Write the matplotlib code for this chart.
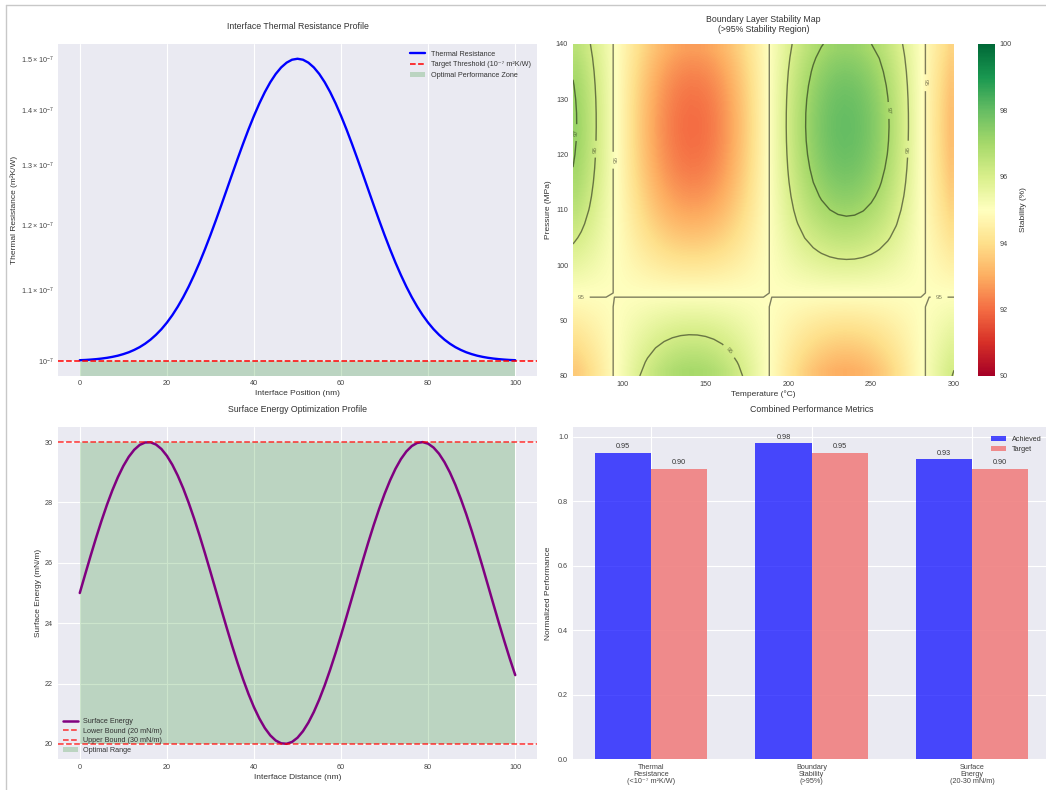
import numpy as np
import matplotlib
matplotlib.use('Agg')
import matplotlib.pyplot as plt
from matplotlib.lines import Line2D

# ---- data ----
# interface thermal resistance along position (units of 1e-7 m2K/W)
position_nm = np.arange(0, 100.01, 1.25)
resistance_e7 = [1.0010, 1.0013, 1.0018, 1.0024, 1.0032, 1.0042, 1.0055, 1.0071,
                 1.0092, 1.0117, 1.0149, 1.0187, 1.0234, 1.0290, 1.0357, 1.0435,
                 1.0527, 1.0633, 1.0755, 1.0893, 1.1048, 1.1221, 1.1410, 1.1617,
                 1.1839, 1.2076, 1.2325, 1.2584, 1.2849, 1.3117, 1.3383, 1.3644,
                 1.3894, 1.4129, 1.4344, 1.4535, 1.4697, 1.4827, 1.4922, 1.4981,
                 1.5000,
                 1.4981, 1.4922, 1.4827, 1.4697, 1.4535, 1.4344, 1.4129, 1.3894,
                 1.3644, 1.3383, 1.3117, 1.2849, 1.2584, 1.2325, 1.2076, 1.1839,
                 1.1617, 1.1410, 1.1221, 1.1048, 1.0893, 1.0755, 1.0633, 1.0527,
                 1.0435, 1.0357, 1.0290, 1.0234, 1.0187, 1.0149, 1.0117, 1.0092,
                 1.0071, 1.0055, 1.0042, 1.0032, 1.0024, 1.0018, 1.0013, 1.0010]
threshold = 1e-7

# stability map: deviation profiles along temperature and pressure
temperature_c = np.arange(70, 300.1, 5)
temp_profile = [0.7232, 0.5985, 0.4573, 0.3034, 0.1411, -0.0251, -0.1905, -0.3508,
                -0.5012, -0.6378, -0.7568, -0.8548, -0.9290, -0.9775, -0.9990, -0.9927,
                -0.9589, -0.8986, -0.8136, -0.7055, -0.5782, -0.4349, -0.2794, -0.1162,
                0.0501, 0.2151, 0.3742, 0.5228, 0.6570, 0.7729, 0.8676, 0.9380,
                0.9825, 0.9998, 0.9894, 0.9515, 0.8871, 0.7985, 0.6875, 0.5575,
                0.4121, 0.2552, 0.0914, -0.0752, -0.2395, -0.3973, -0.5440]
pressure_mpa = np.arange(80, 140.1, 2.5)
pressure_profile = [-0.6536, -0.5557, -0.4461, -0.3318, -0.2108, -0.0873, 0.0376, 0.1618,
                    0.2837, 0.4003, 0.5122, 0.6150, 0.7087, 0.7911, 0.8612, 0.9178,
                    0.9602, 0.9875, 0.9994, 0.9958, 0.9766, 0.9422, 0.8930, 0.8300,
                    0.7539]
base_stability = 95.0
stability_amp = 3.0
contour_levels = [95, 96, 97, 98]

# surface energy along distance
distance_nm = np.arange(0, 100.01, 1.25)
surface_energy = [25.000, 25.623, 26.237, 26.832, 27.397, 27.926, 28.408, 28.837,
                  29.207, 29.512, 29.745, 29.905, 29.987, 29.992, 29.920, 29.771,
                  29.546, 29.251, 28.890, 28.469, 27.992, 27.470, 26.909, 26.317,
                  25.706, 25.083, 24.459, 23.844, 23.246, 22.676, 22.142, 21.653,
                  21.216, 20.839, 20.525, 20.282, 20.112, 20.019, 20.004, 20.066,
                  20.205, 20.420, 20.706, 21.059, 21.473, 21.942, 22.459, 23.015,
                  23.603, 24.213, 24.834, 25.459, 26.076, 26.676, 27.250, 27.789,
                  28.285, 28.729, 29.116, 29.437, 29.690, 29.870, 29.973, 29.999,
                  29.947, 29.818, 29.614, 29.337, 28.993, 28.586, 28.120, 27.613,
                  27.061, 26.477, 25.872, 25.249, 24.624, 24.006, 23.405, 22.825,
                  22.280]
energy_low, energy_high = 20, 30

# combined metrics
metric_names = ['Thermal\nResistance\n(<10⁻⁷ m²K/W)', 'Boundary\nStability\n(>95%)',
                'Surface\nEnergy\n(20-30 mN/m)']
achieved = [0.95, 0.98, 0.93]
target = [0.90, 0.95, 0.90]

plt.style.use('seaborn-v0_8-darkgrid')
plt.rcParams['font.family'] = ['Liberation Sans', 'DejaVu Sans']
plt.rcParams['xtick.labelsize'] = 5.2
plt.rcParams['ytick.labelsize'] = 5.2
plt.rcParams['axes.labelsize'] = 6
plt.rcParams['axes.titlesize'] = 6.3
plt.rcParams['legend.fontsize'] = 5.2
plt.rcParams['text.color'] = '#333333'
plt.rcParams['axes.labelcolor'] = '#333333'
plt.rcParams['xtick.color'] = '#444444'
plt.rcParams['ytick.color'] = '#444444'

fig = plt.figure(figsize=(10.46, 7.9), dpi=100)
W, H = 1046, 790


def place(x0, y0, x1, y1):
    return fig.add_axes([x0 / W, 1 - y1 / H, (x1 - x0) / W, (y1 - y0) / H])


# thin frame at the left and top edge, as in the screenshot
fig.add_artist(Line2D([6 / W, 6 / W], [0, 1 - 5 / H], color='#c8c8c8', lw=1))
fig.add_artist(Line2D([6 / W, 1], [1 - 5 / H, 1 - 5 / H], color='#c8c8c8', lw=1))

# ---- top left: thermal resistance ----
ax1 = place(58, 44, 537, 376)
res = np.array(resistance_e7) * 1e-7
ax1.plot(position_nm, res, color='blue', lw=1.7, label='Thermal Resistance')
ax1.axhline(threshold, color='red', ls='--', lw=1.1, label='Target Threshold (10⁻⁷ m²K/W)')
ax1.set_yscale('log')
ax1.set_ylim(0.98e-7, 1.53e-7)
ax1.fill_between(position_nm, 0.98e-7, threshold, color='green', alpha=0.2,
                 lw=0, label='Optimal Performance Zone')
ax1.set_xlim(-5, 105)
ax1.set_title('Interface Thermal Resistance Profile', pad=11)
ax1.set_xlabel('Interface Position (nm)', labelpad=2)
ax1.set_ylabel('Thermal Resistance (m²K/W)', labelpad=2)
ax1.legend(loc='upper right')
ax1.tick_params(which='both', pad=3)

# ---- top right: stability map ----
ax2 = place(573, 44, 954, 376)
stability = base_stability + stability_amp * np.outer(pressure_profile, temp_profile)
im = ax2.imshow(stability, extent=[70, 300, 80, 140], origin='lower', aspect='auto',
                cmap='RdYlGn', vmin=90, vmax=100, interpolation='bilinear')
cs = ax2.contour(temperature_c, pressure_mpa, stability, levels=contour_levels,
                 colors='black', alpha=0.5, linewidths=1.0)
label_spots = [(71, 124), (83, 121), (94, 119), (75, 94), (291, 94),
               (261, 128), (272, 121), (283, 133), (166, 85)]
ax2.clabel(cs, inline=True, fontsize=4.5, fmt='%d', manual=label_spots)
ax2.set_xlim(70, 300)
ax2.set_ylim(80, 140)
ax2.set_xticks([100, 150, 200, 250, 300])
ax2.grid(False)
ax2.set_title('Boundary Layer Stability Map\n(>95% Stability Region)', pad=9,
              linespacing=1.0)
ax2.set_xlabel('Temperature (°C)', labelpad=2)
ax2.set_ylabel('Pressure (MPa)', labelpad=3)
cax = place(978, 44, 995, 376)
cb = fig.colorbar(im, cax=cax)
cb.set_ticks([90, 92, 94, 96, 98, 100])
cb.set_label('Stability (%)', labelpad=6)
cb.outline.set_visible(False)
cax.tick_params(labelsize=5.2, pad=3)

# ---- bottom left: surface energy ----
ax3 = place(58, 427, 537, 759)
ax3.plot(distance_nm, surface_energy, color='purple', lw=1.8, label='Surface Energy')
ax3.axhline(energy_low, color='red', ls='--', lw=1.1, alpha=0.8,
            label='Lower Bound (20 mN/m)')
ax3.axhline(energy_high, color='red', ls='--', lw=1.1, alpha=0.8,
            label='Upper Bound (30 mN/m)')
ax3.fill_between(distance_nm, energy_low, energy_high, color='green', alpha=0.2,
                 lw=0, label='Optimal Range')
ax3.set_xlim(-5, 105)
ax3.set_ylim(19.5, 30.5)
ax3.set_title('Surface Energy Optimization Profile', pad=11)
ax3.set_xlabel('Interface Distance (nm)', labelpad=2)
ax3.set_ylabel('Surface Energy (mN/m)', labelpad=2)
ax3.legend(loc='lower left', labelspacing=0.35, borderaxespad=0.3)

# ---- bottom right: combined metrics (right edge cut off by the screenshot) ----
ax4 = place(573, 427, 1050, 759)
xpos = np.arange(len(metric_names))
width = 0.35
b1 = ax4.bar(xpos - width / 2, achieved, width, color='blue', alpha=0.7, label='Achieved')
b2 = ax4.bar(xpos + width / 2, target, width, color='lightcoral', alpha=0.9, label='Target')
for bars in (b1, b2):
    for bar in bars:
        h = bar.get_height()
        ax4.text(bar.get_x() + bar.get_width() / 2, h + 0.008, f'{h:.2f}',
                 ha='center', va='bottom', fontsize=5.2)
ax4.set_xticks(xpos)
ax4.set_xticklabels(metric_names, fontsize=5.2, linespacing=1.0)
ax4.set_ylim(0, 1.03)
ax4.set_title('Combined Performance Metrics', pad=11)
ax4.set_ylabel('Normalized Performance', labelpad=4)
ax4.legend(loc='upper right', borderaxespad=0.8)

fig.savefig('out.png', dpi=100)
